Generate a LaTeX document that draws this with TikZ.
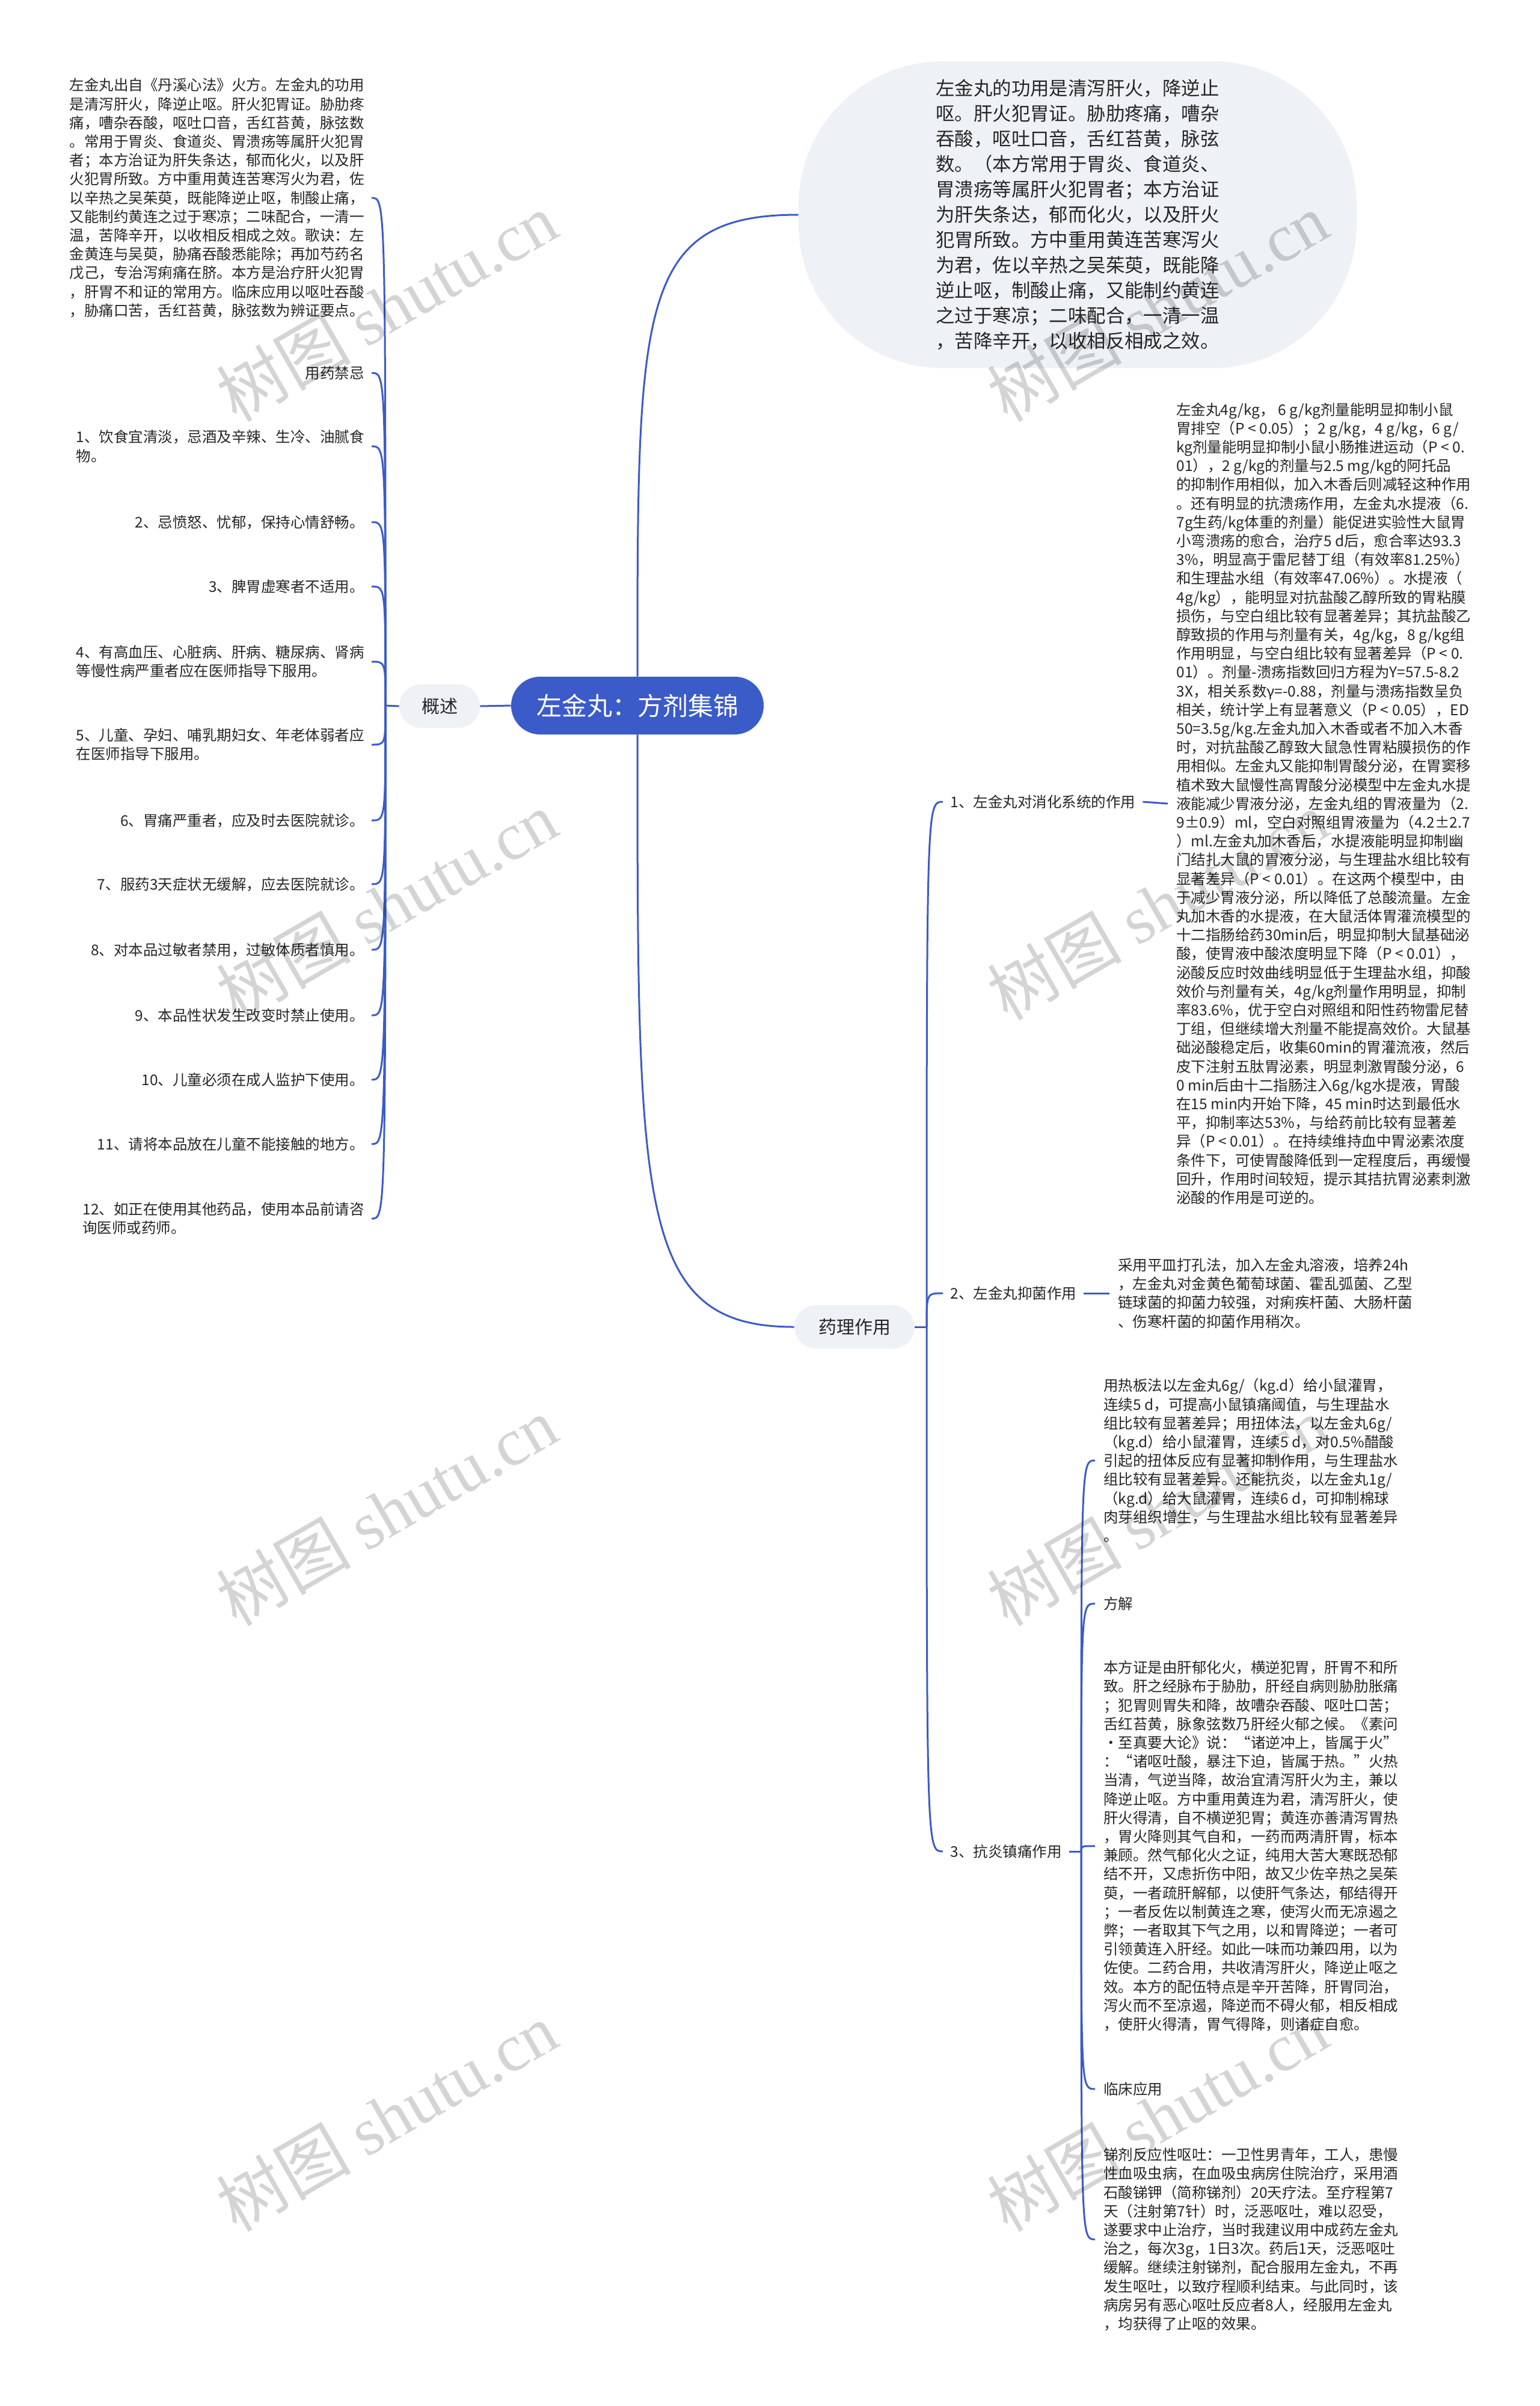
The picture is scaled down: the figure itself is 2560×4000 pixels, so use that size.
\documentclass[tikz,border=0pt]{standalone}
\usepackage{fontspec}
\setmainfont{Noto Sans CJK SC}
\newfontfamily\markfont{Liberation Serif}
\usetikzlibrary{calc,positioning}
\definecolor{mapblue}{HTML}{3B5BC8}
\definecolor{topicgray}{HTML}{EEF1F5}
\definecolor{inktext}{HTML}{262626}

\begin{document}
\begin{tikzpicture}[x=0.5pt, y=-0.5pt,
  link/.style={draw=mapblue, line width=1.5pt},
  rootbox/.style={fill=mapblue, text=white, rounded corners=24pt, minimum width=210pt, minimum height=48pt, font=\fontsize{21}{24}\selectfont},
  topicbox/.style={fill=topicgray, text=inktext, rounded corners=18pt, minimum height=36pt, font=\fontsize{15}{18}\selectfont},
  bodytext/.style={text=inktext, align=left, inner ysep=0pt, inner xsep=7pt, font=\fontsize{12.25}{15.6}\selectfont},
  lefttext/.style={bodytext, anchor=east, inner xsep=6pt},
  righttext/.style={bodytext, anchor=west},
  sublabel/.style={bodytext, anchor=west, inner xsep=6pt},
  wmark/.style={text=black, text opacity=0.17, rotate=30, font=\fontsize{56}{56}\selectfont}]
\useasboundingbox (0,0) rectangle (2560,4000);
\fill[white] (0,0) rectangle (2560,4000);

% centre topic
\node[rootbox] (root) at (1060,1173) {左金丸：方剂集锦};
\node[topicbox, minimum width=67pt] (gaishu) at (731,1174) {概述};
\node[topicbox, minimum width=100pt] (yaoli) at (1421,2206) {药理作用};
\node[fill=topicgray, text=inktext, rounded corners=120pt, minimum width=464pt, minimum height=255pt,
      align=left, font=\fontsize{15.7}{21}\selectfont] (summ) at (1792,357)
  {左金丸的功用是清泻肝火，降逆止\\
   呕。肝火犯胃证。胁肋疼痛，嘈杂\\
   吞酸，呕吐口音，舌红苔黄，脉弦\\
   数。（本方常用于胃炎、食道炎、\\
   胃溃疡等属肝火犯胃者；本方治证\\
   为肝失条达，郁而化火，以及肝火\\
   犯胃所致。方中重用黄连苦寒泻火\\
   为君，佐以辛热之吴茱萸，既能降\\
   逆止呕，制酸止痛，又能制约黄连\\
   之过于寒凉；二味配合，一清一温\\
   ，苦降辛开，以收相反相成之效。};

% left side: overview and cautions
\node[lefttext] (lpara) at (618,329)
  {左金丸出自《丹溪心法》火方。左金丸的功用\\
   是清泻肝火，降逆止呕。肝火犯胃证。胁肋疼\\
   痛，嘈杂吞酸，呕吐口音，舌红苔黄，脉弦数\\
   。常用于胃炎、食道炎、胃溃疡等属肝火犯胃\\
   者；本方治证为肝失条达，郁而化火，以及肝\\
   火犯胃所致。方中重用黄连苦寒泻火为君，佐\\
   以辛热之吴茱萸，既能降逆止呕，制酸止痛，\\
   又能制约黄连之过于寒凉；二味配合，一清一\\
   温，苦降辛开，以收相反相成之效。歌诀：左\\
   金黄连与吴萸，胁痛吞酸悉能除；再加芍药名\\
   戊己，专治泻痢痛在脐。本方是治疗肝火犯胃\\
   ，肝胃不和证的常用方。临床应用以呕吐吞酸\\
   ，胁痛口苦，舌红苔黄，脉弦数为辨证要点。};
\node[lefttext] (taboo) at (618,620) {用药禁忌};
\node[lefttext] (ban1) at (618,742) {1、饮食宜清淡，忌酒及辛辣、生冷、油腻食\\物。};
\node[lefttext] (ban2) at (618,868) {2、忌愤怒、忧郁，保持心情舒畅。};
\node[lefttext] (ban3) at (618,975) {3、脾胃虚寒者不适用。};
\node[lefttext] (ban4) at (618,1100) {4、有高血压、心脏病、肝病、糖尿病、肾病\\等慢性病严重者应在医师指导下服用。};
\node[lefttext] (ban5) at (618,1238) {5、儿童、孕妇、哺乳期妇女、年老体弱者应\\在医师指导下服用。};
\node[lefttext] (ban6) at (618,1364) {6、胃痛严重者，应及时去医院就诊。};
\node[lefttext] (ban7) at (618,1470) {7、服药3天症状无缓解，应去医院就诊。};
\node[lefttext] (ban8) at (618,1579) {8、对本品过敏者禁用，过敏体质者慎用。};
\node[lefttext] (ban9) at (618,1688) {9、本品性状发生改变时禁止使用。};
\node[lefttext] (ban10) at (618,1795) {10、儿童必须在成人监护下使用。};
\node[lefttext] (ban11) at (618,1902) {11、请将本品放在儿童不能接触的地方。};
\node[lefttext] (ban12) at (618,2026) {12、如正在使用其他药品，使用本品前请咨\\询医师或药师。};
\coordinate (lbr) at (641,1173);

% right side: pharmacology
\coordinate (rbr) at (1541,2206);
\node[sublabel] (eff1) at (1568,1333) {1、左金丸对消化系统的作用};
\node[sublabel] (eff2) at (1568,2150) {2、左金丸抑菌作用};
\node[sublabel] (eff3) at (1568,3078) {3、抗炎镇痛作用};
\coordinate (ebr) at (1798,3078);

\node[righttext] (digest) at (1942,1336)
  {左金丸4g/kg， 6 g/kg剂量能明显抑制小鼠\\
   胃排空（P < 0.05）；2 g/kg，4 g/kg，6 g/\\
   kg剂量能明显抑制小鼠小肠推进运动（P < 0.\\
   01），2 g/kg的剂量与2.5 mg/kg的阿托品\\
   的抑制作用相似，加入木香后则减轻这种作用\\
   。还有明显的抗溃疡作用，左金丸水提液（6.\\
   7g生药/kg体重的剂量）能促进实验性大鼠胃\\
   小弯溃疡的愈合，治疗5 d后，愈合率达93.3\\
   3\%，明显高于雷尼替丁组（有效率81.25\%）\\
   和生理盐水组（有效率47.06\%）。水提液（\\
   4g/kg），能明显对抗盐酸乙醇所致的胃粘膜\\
   损伤，与空白组比较有显著差异；其抗盐酸乙\\
   醇致损的作用与剂量有关，4g/kg，8 g/kg组\\
   作用明显，与空白组比较有显著差异（P < 0.\\
   01）。剂量-溃疡指数回归方程为Y=57.5-8.2\\
   3X，相关系数γ=-0.88，剂量与溃疡指数呈负\\
   相关，统计学上有显著意义（P < 0.05），ED\\
   50=3.5g/kg.左金丸加入木香或者不加入木香\\
   时，对抗盐酸乙醇致大鼠急性胃粘膜损伤的作\\
   用相似。左金丸又能抑制胃酸分泌，在胃窦移\\
   植术致大鼠慢性高胃酸分泌模型中左金丸水提\\
   液能减少胃液分泌，左金丸组的胃液量为（2.\\
   9±0.9）ml，空白对照组胃液量为（4.2±2.7\\
   ）ml.左金丸加木香后，水提液能明显抑制幽\\
   门结扎大鼠的胃液分泌，与生理盐水组比较有\\
   显著差异（P < 0.01）。在这两个模型中，由\\
   于减少胃液分泌，所以降低了总酸流量。左金\\
   丸加木香的水提液，在大鼠活体胃灌流模型的\\
   十二指肠给药30min后，明显抑制大鼠基础泌\\
   酸，使胃液中酸浓度明显下降（P < 0.01），\\
   泌酸反应时效曲线明显低于生理盐水组，抑酸\\
   效价与剂量有关，4g/kg剂量作用明显，抑制\\
   率83.6\%，优于空白对照组和阳性药物雷尼替\\
   丁组，但继续增大剂量不能提高效价。大鼠基\\
   础泌酸稳定后，收集60min的胃灌流液，然后\\
   皮下注射五肽胃泌素，明显刺激胃酸分泌，6\\
   0 min后由十二指肠注入6g/kg水提液，胃酸\\
   在15 min内开始下降，45 min时达到最低水\\
   平，抑制率达53\%，与给药前比较有显著差\\
   异（P < 0.01）。在持续维持血中胃泌素浓度\\
   条件下，可使胃酸降低到一定程度后，再缓慢\\
   回升，作用时间较短，提示其拮抗胃泌素刺激\\
   泌酸的作用是可逆的。};

\node[righttext] (germ) at (1845,2150)
  {采用平皿打孔法，加入左金丸溶液，培养24h\\
   ，左金丸对金黄色葡萄球菌、霍乱弧菌、乙型\\
   链球菌的抑菌力较强，对痢疾杆菌、大肠杆菌\\
   、伤寒杆菌的抑菌作用稍次。};

\node[righttext] (pain) at (1821,2428)
  {用热板法以左金丸6g/（kg.d）给小鼠灌胃，\\
   连续5 d，可提高小鼠镇痛阈值，与生理盐水\\
   组比较有显著差异；用扭体法，以左金丸6g/\\
   （kg.d）给小鼠灌胃，连续5 d，对0.5\%醋酸\\
   引起的扭体反应有显著抑制作用，与生理盐水\\
   组比较有显著差异。还能抗炎，以左金丸1g/\\
   （kg.d）给大鼠灌胃，连续6 d，可抑制棉球\\
   肉芽组织增生，与生理盐水组比较有显著差异\\
   。};
\node[righttext] (fangjie) at (1821,2666) {方解};
\node[righttext] (explain) at (1821,3069)
  {本方证是由肝郁化火，横逆犯胃，肝胃不和所\\
   致。肝之经脉布于胁肋，肝经自病则胁肋胀痛\\
   ；犯胃则胃失和降，故嘈杂吞酸、呕吐口苦；\\
   舌红苔黄，脉象弦数乃肝经火郁之候。《素问\\
   ·至真要大论》说：“诸逆冲上，皆属于火”\\
   ：“诸呕吐酸，暴注下迫，皆属于热。”火热\\
   当清，气逆当降，故治宜清泻肝火为主，兼以\\
   降逆止呕。方中重用黄连为君，清泻肝火，使\\
   肝火得清，自不横逆犯胃；黄连亦善清泻胃热\\
   ，胃火降则其气自和，一药而两清肝胃，标本\\
   兼顾。然气郁化火之证，纯用大苦大寒既恐郁\\
   结不开，又虑折伤中阳，故又少佐辛热之吴茱\\
   萸，一者疏肝解郁，以使肝气条达，郁结得开\\
   ；一者反佐以制黄连之寒，使泻火而无凉遏之\\
   弊；一者取其下气之用，以和胃降逆；一者可\\
   引领黄连入肝经。如此一味而功兼四用，以为\\
   佐使。二药合用，共收清泻肝火，降逆止呕之\\
   效。本方的配伍特点是辛开苦降，肝胃同治，\\
   泻火而不至凉遏，降逆而不碍火郁，相反相成\\
   ，使肝火得清，胃气得降，则诸症自愈。};
\node[righttext] (clinic) at (1821,3473) {临床应用};
\node[righttext] (case) at (1821,3723)
  {锑剂反应性呕吐：一卫性男青年，工人，患慢\\
   性血吸虫病，在血吸虫病房住院治疗，采用酒\\
   石酸锑钾（简称锑剂）20天疗法。至疗程第7\\
   天（注射第7针）时，泛恶呕吐，难以忍受，\\
   遂要求中止治疗，当时我建议用中成药左金丸\\
   治之，每次3g，1日3次。药后1天，泛恶呕吐\\
   缓解。继续注射锑剂，配合服用左金丸，不再\\
   发生呕吐，以致疗程顺利结束。与此同时，该\\
   病房另有恶心呕吐反应者8人，经服用左金丸\\
   ，均获得了止呕的效果。};

% connectors from the centre
\draw[link] (root.west) -- (gaishu.east);
\draw[link] (root.north) .. controls ($(root.north)!0.8!(root.north |- summ.west)$) and (root.north |- summ.west) .. (summ.west);
\draw[link] (root.south) .. controls ($(root.south)!0.8!(root.south |- yaoli.west)$) and (root.south |- yaoli.west) .. (yaoli.west);

% left bundle
\draw[link] (gaishu.west) -- (lbr);
\foreach \n in {lpara,taboo,ban1,ban2,ban3,ban4,ban5,ban6,ban7,ban8,ban9,ban10,ban11,ban12}
  \draw[link] (lbr) .. controls (lbr |- \n.east) .. (\n.east);

% right bundle
\draw[link] (yaoli.east) -- (rbr);
\foreach \n in {eff1,eff2,eff3}
  \draw[link] (rbr) .. controls (rbr |- \n.west) .. (\n.west);
\draw[link] (eff1.east) -- (digest.west);
\draw[link] (eff2.east) -- (germ.west);
\draw[link] (eff3.east) -- (ebr);
\foreach \n in {pain,fangjie,explain,clinic,case}
  \draw[link] (ebr) .. controls (ebr |- \n.west) .. (\n.west);

% watermark
\foreach \wx in {643,1925}
  \foreach \wy in {510,1505,2512,3519}
    \node[wmark] (wm-\wx-\wy) at (\wx,\wy) {树图 {\markfont shutu.cn}};
\end{tikzpicture}
\end{document}
